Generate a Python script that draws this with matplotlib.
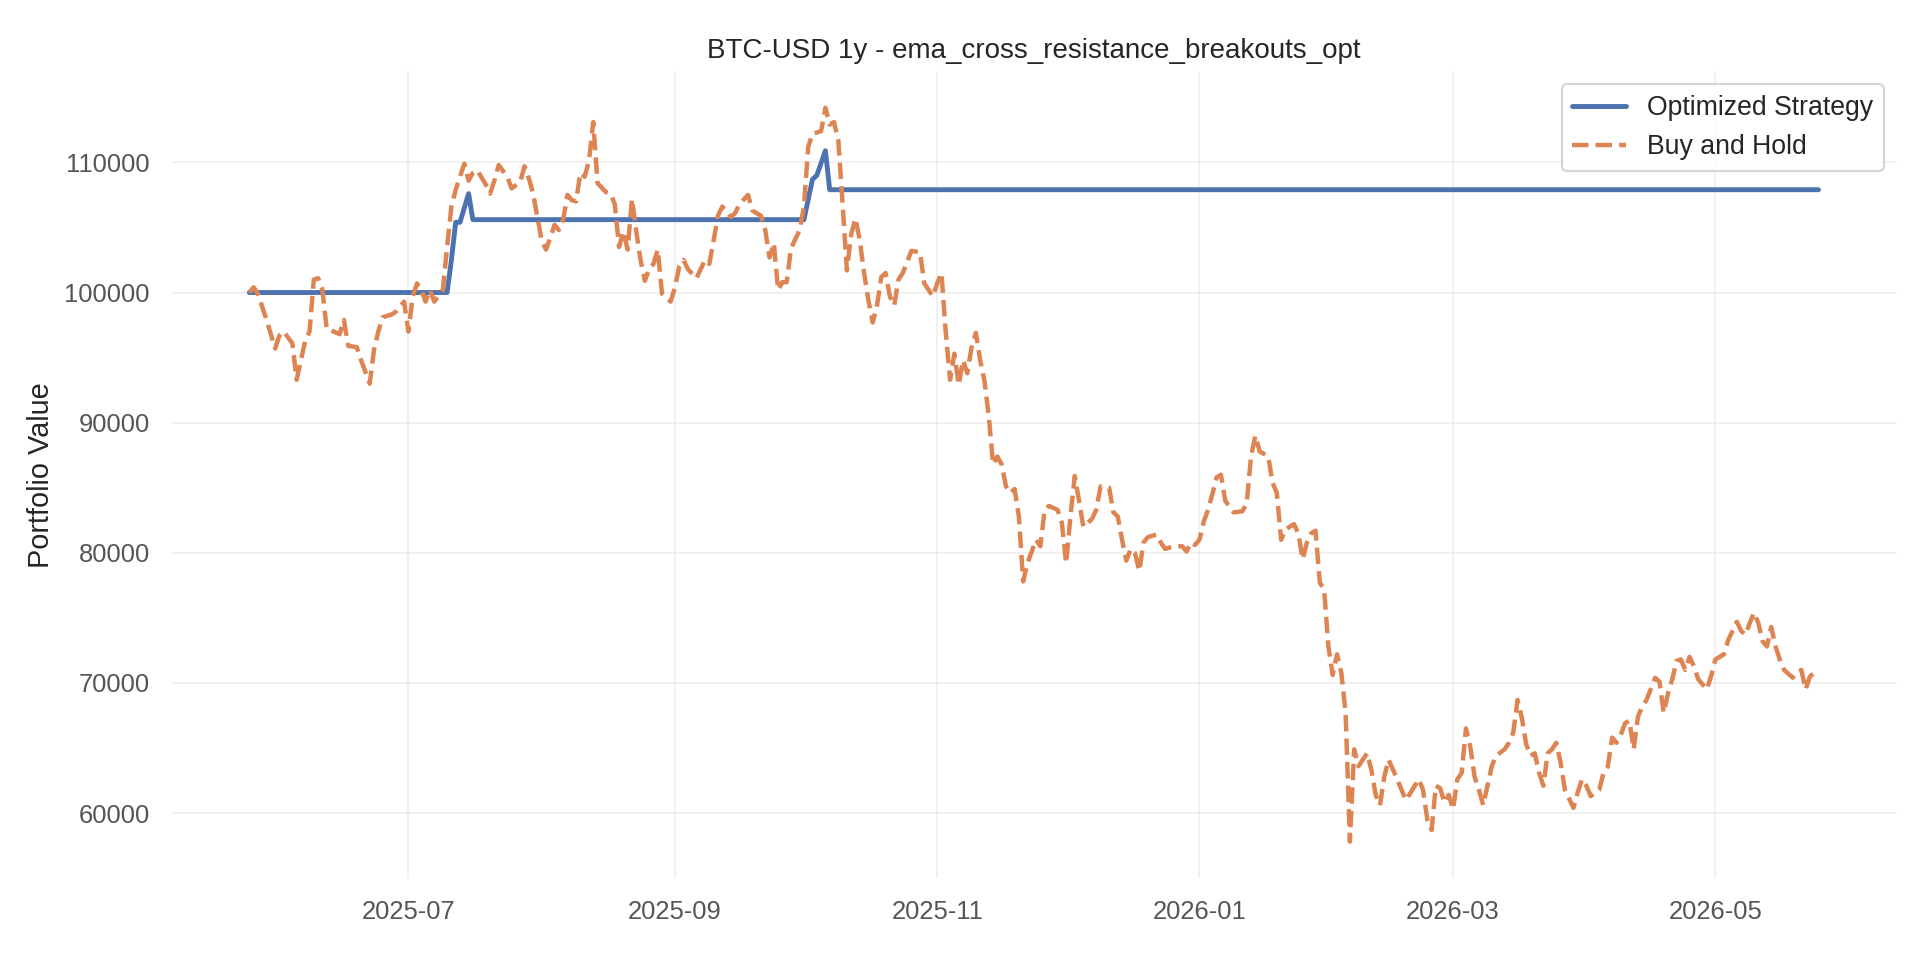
import numpy as np
import pandas as pd
import matplotlib.pyplot as plt
import matplotlib.dates as mdates
import seaborn as sns

sns.set_theme(style="whitegrid")
plt.rcParams['font.family'] = ['Liberation Sans', 'DejaVu Sans']

start = pd.Timestamp('2025-05-25')

# buy and hold (day offset from start, portfolio value)
bh_days = [0, 1, 2, 4, 6, 7, 8, 10, 11, 13, 14, 15, 16, 17, 18, 19, 21, 22, 23, 25,
           26, 28, 29, 30, 31, 33, 34, 36, 37, 38, 39, 40, 41, 42, 43, 45, 46, 47, 48, 50,
           51, 52, 53, 55, 56, 57, 58, 60, 61, 63, 64, 65, 66, 68, 69, 70, 71, 72, 73, 74,
           75, 76, 77, 78, 79, 80, 81, 83, 84, 85, 86, 87, 88, 89, 90, 91, 92, 93, 94, 95,
           96, 98, 99, 100, 101, 102, 104, 106, 107, 108, 109, 110, 112, 113, 114, 116, 117, 119, 120, 121,
           122, 123, 124, 125, 126, 128, 129, 130, 131, 133, 134, 135, 136, 137, 138, 139, 140, 141, 142, 143,
           144, 145, 146, 147, 148, 149, 150, 151, 152, 154, 156, 157, 159, 160, 161, 162, 163, 164, 165, 166,
           167, 168, 169, 170, 171, 172, 173, 174, 175, 176, 177, 178, 179, 180, 181, 183, 184, 185, 186, 188,
           189, 190, 191, 192, 193, 194, 196, 197, 198, 200, 201, 202, 203, 204, 205, 206, 207, 208, 209, 211,
           212, 213, 214, 216, 217, 218, 219, 220, 221, 222, 223, 224, 225, 226, 227, 229, 231, 232, 233, 234,
           235, 237, 238, 239, 240, 241, 243, 244, 245, 246, 247, 248, 249, 250, 251, 252, 253, 254, 255, 256,
           257, 258, 260, 261, 262, 263, 264, 265, 267, 269, 270, 272, 273, 274, 275, 276, 277, 278, 279, 280,
           281, 282, 283, 284, 285, 286, 287, 289, 290, 292, 293, 294, 295, 296, 297, 298, 299, 300, 301, 302,
           303, 304, 305, 306, 307, 308, 309, 310, 311, 312, 314, 315, 316, 317, 318, 319, 320, 321, 322, 323,
           324, 325, 327, 328, 329, 330, 331, 332, 333, 334, 335, 336, 337, 339, 340, 341, 343, 344, 346, 347,
           348, 349, 350, 351, 352, 353, 354, 355, 356, 357, 359, 360, 361, 362, 363, 365]
bh_vals = [100000, 100400, 99900, 97900, 95700, 96700, 97000, 96100, 93300, 96300, 97000, 101000, 101100, 100200, 97200, 97100, 96800, 97900, 95900, 95800,
           94800, 93000, 95600, 97000, 98100, 98300, 98500, 99300, 97000, 99700, 100700, 100200, 99300, 100200, 99300, 100200, 103500, 106600, 107900, 109900,
           108600, 109200, 109400, 108300, 107600, 108600, 109800, 108900, 108000, 108500, 109700, 108800, 107600, 104000, 103300, 104200, 105200, 104800, 105600, 107500,
           107100, 107000, 109200, 108900, 110100, 113100, 108400, 107700, 107600, 106800, 103500, 104700, 103300, 107200, 104700, 102500, 100900, 101800, 102200, 103300,
           99900, 99300, 100400, 102000, 102500, 101800, 101100, 102500, 102200, 104000, 105900, 106600, 105800, 106100, 106800, 107500, 106300, 105900, 104800, 102700,
           103800, 100200, 100800, 100800, 103400, 104800, 106600, 111200, 112200, 112400, 114200, 112900, 113100, 111700, 106800, 101700, 104500, 105700, 104000, 101500,
           99400, 97700, 99000, 101200, 101500, 99700, 99000, 101000, 101500, 103200, 103100, 100700, 99700, 100700, 101500, 96900, 93300, 95300, 92900, 94800,
           93800, 95800, 96900, 94800, 93200, 90500, 86800, 87400, 86800, 85100, 84600, 84900, 82800, 77800, 79200, 81000, 80500, 83300, 83600, 83300,
           82300, 79200, 82800, 85900, 84000, 82000, 82600, 83300, 85100, 85000, 83100, 82800, 81000, 79400, 80300, 80000, 78600, 80800, 81200, 81400,
           80800, 80300, 80400, 80500, 80500, 80100, 80800, 80600, 81000, 82400, 83300, 84500, 85800, 86000, 84000, 83100, 83200, 83800, 87400, 89000,
           87800, 87400, 85400, 84600, 81000, 81800, 82200, 81500, 79500, 80800, 81500, 81700, 77700, 77200, 72800, 70600, 72200, 70800, 67700, 57800,
           64900, 63600, 64600, 63300, 61400, 60600, 62800, 64100, 62600, 61000, 61500, 62600, 61800, 59500, 58700, 62100, 61900, 60800, 61400, 60300,
           62600, 63100, 66500, 65100, 62800, 61800, 60600, 63600, 64400, 64900, 65400, 66200, 68700, 67300, 65300, 64400, 64600, 63100, 62100, 64600,
           64900, 65400, 63900, 61800, 61100, 60400, 61600, 62600, 62100, 61300, 61800, 63100, 63600, 65800, 65400, 66000, 66900, 67100, 64900, 67400,
           68200, 68700, 70400, 70100, 67700, 69200, 70300, 71700, 71800, 71000, 72000, 71300, 70300, 69500, 70500, 71800, 72200, 73300, 74700, 74000,
           73700, 74600, 75400, 74600, 73200, 72800, 74300, 72800, 71800, 71000, 70400, 70800, 71000, 69500, 70500, 71000]

# optimized strategy (flat while out of the market)
strat_days = [0, 46, 47, 48, 49, 51, 52, 129, 131, 132, 134, 135, 365]
strat_vals = [100000, 100000, 102500, 105400, 105400, 107600, 105600, 105600, 108700, 109000, 110900, 107900, 107900]

bh_dates = start + pd.to_timedelta(bh_days, unit='D')
strat_dates = start + pd.to_timedelta(strat_days, unit='D')

fig, ax = plt.subplots(figsize=(12, 6), dpi=160)
ax.plot(strat_dates, strat_vals, color='#4C72B0', linewidth=2.2, label='Optimized Strategy')
ax.plot(bh_dates, bh_vals, color='#DD8452', linewidth=2.0, linestyle='--', label='Buy and Hold')

ax.set_title('BTC-USD 1y - ema_cross_resistance_breakouts_opt', fontsize=12.5, color='#262626')
ax.set_ylabel('Portfolio Value', fontsize=13, color='#262626')
ax.xaxis.set_major_locator(mdates.MonthLocator(bymonth=[1, 3, 5, 7, 9, 11]))
ax.xaxis.set_major_formatter(mdates.DateFormatter('%Y-%m'))
ax.tick_params(labelsize=11.5, colors='#555555')
ax.grid(True, color='#cccccc', alpha=0.3, linewidth=0.8)
for s in ax.spines.values():
    s.set_visible(False)

leg = ax.legend(loc='upper right', fontsize=12, frameon=True)
leg.get_frame().set_edgecolor('#cccccc')

plt.subplots_adjust(left=0.089, right=0.988, bottom=0.085, top=0.926)
plt.savefig('out.png')
